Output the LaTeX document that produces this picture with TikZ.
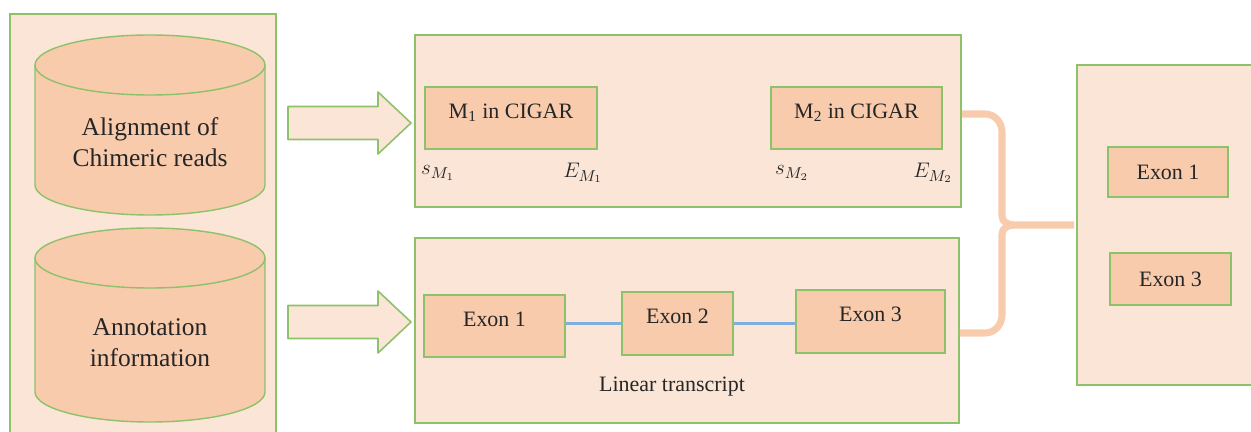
\documentclass[tikz,border=0pt]{standalone}
\usepackage{fontspec}
\setmainfont{Liberation Serif}
\usetikzlibrary{positioning,calc}
\definecolor{panelfill}{HTML}{FBE5D6}
\definecolor{boxfill}{HTML}{F8CBAD}
\definecolor{edgegreen}{HTML}{8DC16A}
\definecolor{linkblue}{HTML}{7FAEE0}
\definecolor{inktext}{HTML}{262626}

\begin{document}
\begin{tikzpicture}[x=0.2mm,y=0.2mm,
  panel/.style={draw=edgegreen, fill=panelfill, line width=0.9pt, inner sep=0pt},
  cellbox/.style={draw=edgegreen, fill=boxfill, line width=0.9pt, inner sep=0pt, text=inktext, font=\fontsize{12.5}{15}\selectfont},
  upper/.style={text height=2.9mm, text depth=2.8mm},
  dbtext/.style={align=center, text=inktext, font=\fontsize{14.5}{17.6}\selectfont},
  coord/.style={text=inktext, font=\fontsize{13}{15}\selectfont}]
  \useasboundingbox (0,0) rectangle (1251,432);

  % panels
  \node[panel, minimum width=53.2mm, minimum height=84.6mm] (inputs) at (143,206.5) {};
  \node[panel, minimum width=109.2mm, minimum height=34.4mm] (cigar) at (688,311) {};
  \node[panel, minimum width=108.8mm, minimum height=37mm] (transcript) at (687,101.5) {};
  \node[panel, minimum width=37mm, minimum height=64mm] (result) at (1169.5,207) {};

  % the two databases
  \foreach \top/\bot in {367/247, 174/40}{
    \filldraw[draw=edgegreen, fill=boxfill, line width=0.8pt]
      (35,\top) -- (35,\bot) arc[start angle=180, end angle=360, x radius=23mm, y radius=6mm]
      -- (265,\top) arc[start angle=0, end angle=180, x radius=23mm, y radius=6mm] -- cycle;
    \draw[edgegreen, line width=0.8pt] (35,\top) arc[start angle=180, end angle=360, x radius=23mm, y radius=6mm];
  }
  \node[dbtext] (reads) at (150,290) {Alignment of\\Chimeric reads};
  \node[dbtext] (annot) at (150,89) {Annotation\\information};

  % block arrows into the middle panels
  \foreach \c in {309, 110}{
    \filldraw[draw=edgegreen, fill=panelfill, line width=0.9pt, line join=round]
      (288,\c+16.5) -- (378,\c+16.5) -- (378,\c+31) -- (411,\c) -- (378,\c-31)
      -- (378,\c-16.5) -- (288,\c-16.5) -- cycle;
  }

  % CIGAR matches
  \node[cellbox, upper, minimum width=34.4mm, minimum height=12.4mm] (m1) at (511,314) {M\textsubscript{1} in CIGAR};
  \node[cellbox, upper, minimum width=34.2mm, minimum height=12.4mm] (m2) at (856.5,314) {M\textsubscript{2} in CIGAR};
  \node[coord] (s1) at (438,259) {$s_{M_1}$};
  \node[coord] (e1) at (583,259) {$E_{M_1}$};
  \node[coord] (s2) at (792,259) {$s_{M_2}$};
  \node[coord] (e2) at (933,259) {$E_{M_2}$};

  % linear transcript
  \node[cellbox, upper, minimum width=28.2mm, minimum height=12.4mm] (ex1) at (494.5,106) {Exon 1};
  \node[cellbox, upper, minimum width=22.2mm, minimum height=12.6mm] (ex2) at (677.5,108.5) {Exon 2};
  \node[cellbox, upper, minimum width=29.8mm, minimum height=12.6mm] (ex3) at (870.5,110.5) {Exon 3};
  \draw[linkblue, line width=1.2pt] (ex1.east |- ex2) -- (ex2.west);
  \draw[linkblue, line width=1.2pt] (ex2.east) -- (ex2.east -| ex3.west);
  \node[cellbox, draw=none, fill=none] (lintx) at (672,45) {Linear transcript};

  % exons kept
  \node[cellbox, minimum width=24mm, minimum height=10mm] (keep1) at (1168,260) {Exon 1};
  \node[cellbox, minimum width=24.2mm, minimum height=10.4mm] (keep3) at (1170.5,153) {Exon 3};

  % brace joining both panels
  \coordinate (tip) at ($(result.west)+(-2,0)$);
  \draw[boxfill, line width=4pt, line cap=butt]
    (cigar.east |- 0,318) -- (985,318) to[out=0, in=90] (1002,300) -- (1002,216)
    to[out=-90, in=180] (1014,207) -- (tip);
  \draw[boxfill, line width=4pt, line cap=butt]
    (transcript.east |- 0,99) -- (985,99) to[out=0, in=-90] (1002,117) -- (1002,198)
    to[out=90, in=180] (1014,207);
\end{tikzpicture}
\end{document}
